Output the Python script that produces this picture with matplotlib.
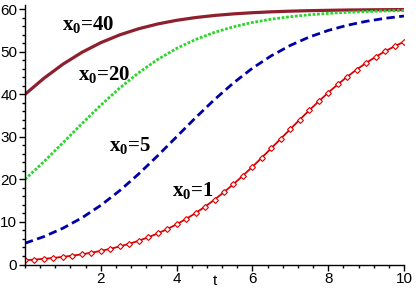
import matplotlib
matplotlib.use("Agg")
import matplotlib.pyplot as plt
from matplotlib.ticker import MultipleLocator

plt.rcParams['mathtext.fontset'] = 'custom'
plt.rcParams['mathtext.rm'] = 'Liberation Serif:bold'
plt.rcParams['mathtext.it'] = 'Liberation Serif:bold'
plt.rcParams['mathtext.bf'] = 'Liberation Serif:bold'

# t values (half steps) for the smooth curves
t_half = [0, 0.5, 1, 1.5, 2, 2.5, 3, 3.5, 4, 4.5, 5, 5.5, 6, 6.5, 7, 7.5, 8, 8.5, 9, 9.5, 10]

x40 = [40.0, 43.78, 47.08, 49.86, 52.15, 53.98, 55.42, 56.54, 57.40, 58.05, 58.54,
       58.91, 59.19, 59.40, 59.55, 59.67, 59.75, 59.82, 59.86, 59.90, 59.93]
x20 = [20.0, 24.18, 28.60, 33.09, 37.44, 41.49, 45.09, 48.19, 50.79, 52.89, 54.57,
       55.88, 56.89, 57.67, 58.25, 58.70, 59.03, 59.28, 59.46, 59.60, 59.70]
x5 = [5.0, 6.56, 8.53, 10.96, 13.91, 17.37, 21.29, 25.56, 30.03, 34.50, 38.77,
      42.68, 46.14, 49.07, 51.50, 53.47, 55.02, 56.23, 57.16, 57.87, 58.41]

# t values (quarter steps) for the x0=1 curve with markers
t_quarter = [0, 0.25, 0.5, 0.75, 1, 1.25, 1.5, 1.75, 2, 2.25, 2.5, 2.75, 3, 3.25, 3.5, 3.75,
             4, 4.25, 4.5, 4.75, 5, 5.25, 5.5, 5.75, 6, 6.25, 6.5, 6.75, 7, 7.25, 7.5, 7.75,
             8, 8.25, 8.5, 8.75, 9, 9.25, 9.5, 9.75, 10]
x1 = [1.0, 1.16, 1.34, 1.55, 1.80, 2.08, 2.40, 2.77, 3.20, 3.68, 4.24, 4.87, 5.58, 6.39,
      7.30, 8.31, 9.45, 10.70, 12.08, 13.60, 15.24, 17.01, 18.89, 20.88, 22.97, 25.13,
      27.35, 29.59, 31.83, 34.06, 36.24, 38.36, 40.39, 42.32, 44.12, 45.82, 47.37, 48.81,
      50.11, 51.29, 52.35]

labels = ["x$_0$=40", "x$_0$=20", "x$_0$=5", "x$_0$=1"]
label_pos = [(1.66, 56.4), (2.1, 44.6), (2.77, 27.9), (4.43, 17.3)]

x_ticks = [2, 4, 6, 8, 10]
y_ticks = [0, 10, 20, 30, 40, 50, 60]

fig = plt.figure(figsize=(4.19, 2.89), dpi=100)
ax = fig.add_axes([25/419, 1 - 264.5/289, (404-25)/419, (264.5-5)/289])

ax.plot(t_half, x40, color='#8E1F2E', lw=2.3, solid_capstyle='butt')
ax.plot(t_half, x20, color='#2BD62B', lw=2.0, linestyle=(0, (1, 0.6)))
ax.plot(t_half, x5, color='#0000A8', lw=2.0, linestyle=(0, (3, 1.6)))
ax.plot(t_quarter, x1, color='#DD0000', lw=1.3, marker='D', markersize=3.0,
        markerfacecolor='white', markeredgecolor='#DD0000', markeredgewidth=0.8)

for lab, (tx, ty) in zip(labels, label_pos):
    ax.text(tx, ty, lab, fontsize=15, fontfamily='Liberation Serif', fontweight='bold',
            ha='center', va='center', color='black')

ax.set_xlim(0, 10)
ax.set_ylim(0, 61)
ax.set_xticks(x_ticks)
ax.set_yticks(y_ticks)
ax.xaxis.set_minor_locator(MultipleLocator(0.4))
ax.yaxis.set_minor_locator(MultipleLocator(2))
for s in ['top', 'right']:
    ax.spines[s].set_visible(False)
for s in ['left', 'bottom']:
    ax.spines[s].set_linewidth(1.0)
    ax.spines[s].set_color('black')
ax.tick_params(axis='both', which='major', length=4, width=1, direction='out',
               labelsize=11, pad=1.5)
ax.tick_params(axis='both', which='minor', length=2, width=1, direction='out')
for lbl in ax.get_xticklabels() + ax.get_yticklabels():
    lbl.set_fontfamily('Liberation Sans')
fig.text(215/419, 1 - 281/289, 't', fontsize=11, fontfamily='Liberation Sans',
         ha='center', va='center')
ax.patch.set_visible(False)

fig.savefig('out.png', dpi=100)
